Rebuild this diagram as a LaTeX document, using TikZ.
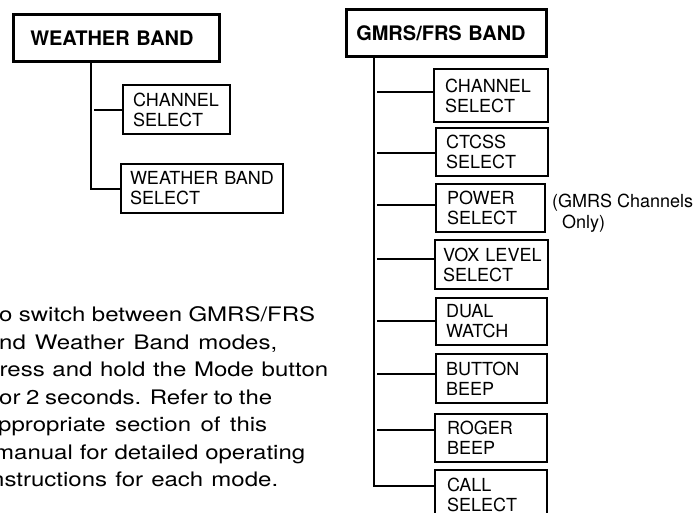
\documentclass[tikz,border=0pt]{standalone}
\usepackage{fontspec}
\setmainfont{TeX Gyre Heros}
\newfontfamily\parafont[FakeStretch=1.2]{TeX Gyre Heros}
\begin{document}
\begin{tikzpicture}[x=1pt,y=-1pt,
  title/.style={draw, line width=2.5pt, anchor=north west, inner ysep=0pt, align=left,
    font=\fontsize{20}{22}\selectfont\bfseries},
  item/.style={draw, line width=2pt, anchor=north west, inner ysep=0pt, align=left,
    font=\fontsize{18}{20}\selectfont},
  link/.style={line width=2pt},
  para/.style={anchor=base west, inner sep=0pt, font={\parafont\fontsize{20}{27.5}\selectfont}},
  note/.style={anchor=north west, inner sep=0pt, align=left, font=\fontsize{18}{21}\selectfont}]
\useasboundingbox (0,0) rectangle (698,512);
\clip (0,0) rectangle (698,512);

% ---------- Weather band tree ----------
\node[title, minimum width=206pt, minimum height=47pt, inner xsep=17pt, text width=172pt] (wb) at (12,13) {WEATHER~BAND};
\node[item, minimum width=107pt, minimum height=49pt, inner xsep=10pt, text width=87pt] (wch) at (122,84) {CHANNEL\\SELECT};
\node[item, minimum width=162pt, minimum height=49pt, inner xsep=9pt, text width=144pt] (wbs) at (120,163) {WEATHER~BAND\\SELECT};

\coordinate (wv) at (91,0);
\coordinate (wv2) at (94,0);
\draw[link] (wb.south -| wv) |- (wbs.west);
\draw[link] (wv2 |- wch.west) -- (wch.west);

% ---------- GMRS/FRS band tree ----------
\node[title, minimum width=200pt, minimum height=47pt, inner xsep=10pt, text width=180pt] (gm) at (345,8) {GMRS/FRS~BAND};
\node[item, minimum width=114pt, minimum height=53pt, inner xsep=11pt, text width=92pt] (c1) at (433,68) {CHANNEL\\SELECT};
\node[item, minimum width=112pt, minimum height=48pt, inner xsep=10pt, text width=92pt] (c2) at (435,127) {CTCSS\\SELECT};
\node[item, minimum width=109pt, minimum height=48pt, inner xsep=11pt, text width=87pt] (c3) at (435,183) {POWER\\SELECT};
\node[item, minimum width=113pt, minimum height=49pt, inner xsep=8pt, text width=97pt] (c4) at (434,239) {VOX~LEVEL\\SELECT};
\node[item, minimum width=111pt, minimum height=47pt, inner xsep=10pt, text width=91pt] (c5) at (435,297) {DUAL\\WATCH};
\node[item, minimum width=111pt, minimum height=49pt, inner xsep=10pt, text width=91pt] (c6) at (435,353) {BUTTON\\BEEP};
\node[item, minimum width=112pt, minimum height=48pt, inner xsep=12pt, text width=88pt] (c7) at (434,413) {ROGER\\BEEP};
\node[item, minimum width=112pt, minimum height=49pt, inner xsep=12pt, text width=88pt] (c8) at (434,469) {CALL\\SELECT};

\node[note] (gnote) at (552,194) {(GMRS Channels\\\hspace{10pt}Only)};

\coordinate (gv) at (374,0);
\coordinate (gb) at (377,0);
\coordinate (b1) at (0,92);
\coordinate (b2) at (0,153);
\coordinate (b3) at (0,205);
\coordinate (b4) at (0,259);
\coordinate (b5) at (0,321);
\coordinate (b6) at (0,374);
\coordinate (b7) at (0,430);
\coordinate (b8) at (0,486);
\draw[link] (gm.south -| gv) -- (gv |- b8) -- (c8.west |- b8);
\foreach \i in {1,...,7}{
  \draw[link] (gb |- b\i) -- (c\i.west |- b\i);
}

% ---------- paragraph ----------
\node[para] (p1) at (-1,321.5) {\makebox[316pt][s]{o switch between GMRS/FRS}};
\node[para] (p2) at (-1,349) {\makebox[278pt][s]{nd Weather Band modes,}};
\node[para] (p3) at (-0.5,376.5) {\makebox[328.5pt][s]{ress and hold the Mode button}};
\node[para] (p4) at (-1,404) {\makebox[273pt][s]{or 2 seconds. Refer to the}};
\node[para] (p5) at (-2,431.5) {\makebox[269pt][s]{ppropriate section of this}};
\node[para] (p6) at (-6,459) {\makebox[311pt][s]{manual for detailed operating}};
\node[para] (p7) at (-9,486.5) {\makebox[287pt][s]{nstructions for each mode.}};
\end{tikzpicture}
\end{document}
